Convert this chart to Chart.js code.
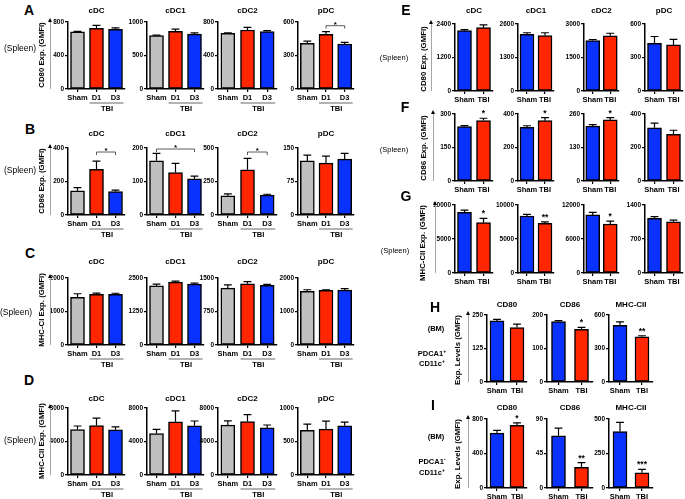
<!DOCTYPE html>
<html>
<head>
<meta charset="utf-8">
<script src="https://cdn.jsdelivr.net/npm/chart.js@4.4.1/dist/chart.umd.min.js"></script>
<style>
  body { margin: 0; background: #fff; }
  #fig { position: relative; width: 685px; height: 499px; overflow: hidden; background: #fff; font-family: "Liberation Sans", Arial, sans-serif; }
  .txt { position: absolute; white-space: nowrap; color: #000; line-height: 1; }
  .arrow { position: absolute; width: 0; border-left: 1px solid #a5a5a5; }
  .arrow::before { content: ""; position: absolute; left: -3px; top: -3px; border-left: 2.5px solid transparent; border-right: 2.5px solid transparent; border-bottom: 4px solid #000; }
  sup { font-size: 70%; vertical-align: 3px; }
</style>
</head>
<body>
<div id="fig"></div>
<script>
const spleenCells = ["cDC", "cDC1", "cDC2", "pDC"];
const dayGroups = ["Sham", "D1", "D3"];
const tbiGroups = ["Sham", "TBI"];
const bmMarkers = ["CD80", "CD86", "MHC-CII"];

// A - CD80 (spleen), Sham / D1 / D3
const cd80DayMean = [[684, 725, 713], [798, 860, 820], [665, 705, 686], [409, 490, 403]];
const cd80DayErr = [[5, 35, 18], [6, 35, 18], [5, 32, 12], [20, 23, 15]];
const cd80DayMax = [800, 1000, 800, 600];
const cd80DayBrackets = [null, null, null, [1, 2, 567, "*"]];

// B - CD86
const cd86DayMean = [[145, 272, 140], [162, 127, 108], [143, 338, 148], [121, 116, 125]];
const cd86DayErr = [[18, 50, 8], [22, 27, 8], [15, 85, 7], [13, 16, 13]];
const cd86DayMax = [400, 200, 500, 150];
const cd86DayBrackets = [[1, 2, 376, "*"], [0, 2, 197, "*"], [1, 2, 470, "*"], null];

// C - MHC-CI
const mhc1DayMean = [[1420, 1510, 1515], [2205, 2345, 2270], [1275, 1370, 1335], [1600, 1630, 1640]];
const mhc1DayErr = [[110, 40, 30], [70, 35, 40], [70, 50, 22], [50, 18, 40]];
const mhc1DayMax = [2000, 2500, 1500, 2000];

// D - MHC-CII
const mhc2DayMean = [[5430, 5900, 5400], [4950, 6350, 5870], [5950, 6380, 5620], [668, 685, 735]];
const mhc2DayErr = [[420, 900, 340], [500, 1300, 580], [520, 820, 350], [90, 118, 55]];
const mhc2DayMax = [8000, 8000, 8000, 1000];

// E - CD80, Sham / TBI
const cd80TbiMean = [[2160, 2270], [2200, 2150], [2260, 2470], [428, 413]];
const cd80TbiErr = [[35, 100], [60, 110], [45, 115], [60, 50]];
const cd80TbiMax = [2400, 2600, 3000, 600];

// F - CD86
const cd86TbiMean = [[244, 271], [320, 360], [213, 237], [318, 279]];
const cd86TbiErr = [[4, 10], [10, 18], [6, 9], [27, 24]];
const cd86TbiMax = [300, 400, 260, 400];
const cd86TbiStars = ["*", "*", "*", ""];

// G - MHC-CII
const mhc2TbiMean = [[8920, 7400], [8380, 7300], [10250, 8650], [1125, 1055]];
const mhc2TbiErr = [[330, 640], [230, 230], [460, 520], [35, 35]];
const mhc2TbiMax = [10000, 10000, 12000, 1400];
const mhc2TbiStars = ["*", "**", "*", ""];

// H - BM PDCA1+ CD11c+
const bmPosMean = [[228, 203], [180, 157], [508, 405]];
const bmPosErr = [[6, 13], [3, 6], [30, 9]];
const bmPosMax = [250, 200, 600];
const bmPosStars = ["", "*", "**"];

// I - BM PDCA1- CD11c+
const bmNegMean = [[636, 727], [68, 27], [409, 110]];
const bmNegErr = [[31, 27], [10, 6], [66, 25]];
const bmNegMax = [800, 90, 500];
const bmNegStars = ["*", "**", "***"];

const FONT = "'Liberation Sans', Arial, sans-serif";
const GRAY = "#c0c0c0";
const RED = "#ff2600";
const BLUE = "#0a32ff";

Chart.defaults.font.family = FONT;
Chart.defaults.color = "#000";

const fig = document.getElementById("fig");

// layout of the columns / rows (pixels)
const leftCols = { axisX: [68, 147, 218, 298], endX: [125, 204, 277, 354] };
const rightCols = { axisX: [455, 518, 584, 645], endX: [493, 554, 619, 683] };
const bmCols = { axisX: [487, 547, 609], endX: [527, 593, 653] };

const rowA = { topY: 22, zeroY: 89, titleY: 11 };
const rowB = { topY: 148, zeroY: 215, titleY: 134 };
const rowC = { topY: 278, zeroY: 345, titleY: 262 };
const rowD = { topY: 408, zeroY: 475, titleY: 399 };
const rowE = { topY: 24, zeroY: 91, titleY: 11 };
const rowF = { topY: 114, zeroY: 181, titleY: null };
const rowG = { topY: 205, zeroY: 273, titleY: null };
const rowH = { topY: 315, zeroY: 382, titleY: 305 };
const rowI = { topY: 419, zeroY: 488, titleY: 408 };

const errorBars = {
  id: "errorBars",
  afterDatasetsDraw(chart) {
    const { ctx } = chart;
    const y = chart.scales.y;
    const ds = chart.data.datasets[0];
    const meta = chart.getDatasetMeta(0);
    ctx.save();
    ctx.strokeStyle = "#000";
    ctx.lineWidth = 1.2;
    meta.data.forEach((bar, i) => {
      const yTop = y.getPixelForValue(ds.data[i] + ds.errors[i]);
      const cap = bar.width * 0.28;
      ctx.beginPath();
      ctx.moveTo(bar.x, bar.y);
      ctx.lineTo(bar.x, yTop);
      ctx.moveTo(bar.x - cap, yTop);
      ctx.lineTo(bar.x + cap, yTop);
      ctx.stroke();
    });
    ctx.restore();
  },
};

function makeMarks(spec) {
  return {
    id: "marks",
    afterDraw(chart) {
      const { ctx, chartArea } = chart;
      const y = chart.scales.y;
      const ds = chart.data.datasets[0];
      const bars = chart.getDatasetMeta(0).data;
      ctx.save();
      ctx.fillStyle = "#000";
      ctx.textAlign = "center";

      if (spec.title) {
        ctx.font = `bold 8px ${FONT}`;
        ctx.textBaseline = "middle";
        ctx.fillText(spec.title, (chartArea.left + chartArea.right) / 2, spec.titleY - spec.canvasTop);
      }

      if (spec.group) {
        const x1 = bars[1].x - bars[1].width / 2;
        const x2 = bars[2].x + bars[2].width / 2 + 1;
        const lineY = chartArea.bottom + 14;
        ctx.strokeStyle = "#9a9a9a";
        ctx.lineWidth = 1.5;
        ctx.beginPath();
        ctx.moveTo(x1, lineY);
        ctx.lineTo(x2, lineY);
        ctx.stroke();
        ctx.font = `bold 7.5px ${FONT}`;
        ctx.textBaseline = "middle";
        ctx.fillText("TBI", (bars[1].x + bars[2].x) / 2 + 1, chartArea.bottom + 20);
      }

      if (spec.bracket) {
        const [from, to, value, text] = spec.bracket;
        const by = y.getPixelForValue(value);
        ctx.strokeStyle = "#333";
        ctx.lineWidth = 0.8;
        ctx.beginPath();
        ctx.moveTo(bars[from].x, by + 3);
        ctx.lineTo(bars[from].x, by);
        ctx.lineTo(bars[to].x, by);
        ctx.lineTo(bars[to].x, by + 3);
        ctx.stroke();
        ctx.font = `bold 8px ${FONT}`;
        ctx.textBaseline = "alphabetic";
        ctx.fillText(text, (bars[from].x + bars[to].x) / 2, by + 1);
      }

      if (spec.stars) {
        ctx.font = `bold 8.5px ${FONT}`;
        ctx.textBaseline = "alphabetic";
        spec.stars.forEach((s, i) => {
          if (!s) return;
          const cy = y.getPixelForValue(ds.data[i] + ds.errors[i]);
          ctx.fillText(s, bars[i].x, cy - 2);
        });
      }
      ctx.restore();
    },
  };
}

function drawBarChart(spec) {
  const yW = 24;
  const padR = 3;
  const xH = spec.group ? 26 : 14;
  const top = spec.titleY ? spec.titleY - 8 : spec.topY - 14;
  const left = spec.axisX - yW;
  const width = spec.endX - spec.axisX + yW + padR;
  const height = spec.zeroY - top + xH;
  spec.canvasTop = top;

  const canvas = document.createElement("canvas");
  canvas.width = width;
  canvas.height = height;
  canvas.style.cssText = `position:absolute;left:${left}px;top:${top}px;width:${width}px;height:${height}px`;
  fig.appendChild(canvas);

  const max = spec.max;
  new Chart(canvas, {
    type: "bar",
    data: {
      labels: spec.labels,
      datasets: [
        {
          data: spec.mean,
          errors: spec.err,
          backgroundColor: spec.colors,
          borderColor: "#000",
          borderWidth: 1.5,
          borderSkipped: false,
          barThickness: 14,
        },
      ],
    },
    options: {
      responsive: false,
      animation: false,
      devicePixelRatio: 1,
      events: [],
      layout: { padding: { top: spec.topY - top, right: padR, left: 0, bottom: 0 } },
      plugins: { legend: { display: false }, tooltip: { enabled: false }, title: { display: false } },
      scales: {
        x: {
          offset: true,
          grid: { display: true, drawOnChartArea: false, offset: false, tickLength: 3, color: "#000", lineWidth: 1.2 },
          border: { color: "#000", width: 1.5 },
          ticks: { color: "#000", font: { size: 7.5, weight: "bold" }, padding: 1, maxRotation: 0, autoSkip: false },
          afterFit: (s) => { s.height = xH; },
        },
        y: {
          min: 0,
          max: max,
          afterBuildTicks: (s) => { s.ticks = [0, max / 2, max].map((v) => ({ value: v })); },
          grid: { drawOnChartArea: false, tickLength: 3, color: "#000", lineWidth: 1.2 },
          border: { color: "#000", width: 1.5 },
          ticks: { color: "#000", font: { size: 6.5, weight: "bold" }, padding: 1, callback: (v) => String(v) },
          afterFit: (s) => { s.width = yW; },
        },
      },
    },
    plugins: [errorBars, makeMarks(spec)],
  });
}

function drawPanel(row, cols, titles, labels, mean, err, maxes, extra) {
  const colors = labels.length === 3 ? [GRAY, RED, BLUE] : [BLUE, RED];
  mean.forEach((m, i) => {
    drawBarChart({
      axisX: cols.axisX[i],
      endX: cols.endX[i],
      topY: row.topY,
      zeroY: row.zeroY,
      titleY: row.titleY,
      title: row.titleY ? titles[i] : null,
      labels: labels,
      colors: colors,
      mean: m,
      err: err[i],
      max: maxes[i],
      group: labels.length === 3,
      bracket: extra && extra.brackets ? extra.brackets[i] : null,
      stars: extra && extra.stars ? [null, extra.stars[i]] : null,
    });
  });
}

drawPanel(rowA, leftCols, spleenCells, dayGroups, cd80DayMean, cd80DayErr, cd80DayMax, { brackets: cd80DayBrackets });
drawPanel(rowB, leftCols, spleenCells, dayGroups, cd86DayMean, cd86DayErr, cd86DayMax, { brackets: cd86DayBrackets });
drawPanel(rowC, leftCols, spleenCells, dayGroups, mhc1DayMean, mhc1DayErr, mhc1DayMax);
drawPanel(rowD, leftCols, spleenCells, dayGroups, mhc2DayMean, mhc2DayErr, mhc2DayMax);
drawPanel(rowE, rightCols, spleenCells, tbiGroups, cd80TbiMean, cd80TbiErr, cd80TbiMax);
drawPanel(rowF, rightCols, spleenCells, tbiGroups, cd86TbiMean, cd86TbiErr, cd86TbiMax, { stars: cd86TbiStars });
drawPanel(rowG, rightCols, spleenCells, tbiGroups, mhc2TbiMean, mhc2TbiErr, mhc2TbiMax, { stars: mhc2TbiStars });
drawPanel(rowH, bmCols, bmMarkers, tbiGroups, bmPosMean, bmPosErr, bmPosMax, { stars: bmPosStars });
drawPanel(rowI, bmCols, bmMarkers, tbiGroups, bmNegMean, bmNegErr, bmNegMax, { stars: bmNegStars });

// side labels
function addText(html, x, y, size, weight, rotate) {
  const d = document.createElement("div");
  d.className = "txt";
  d.innerHTML = html;
  d.style.left = x + "px";
  d.style.top = y + "px";
  d.style.fontSize = size + "px";
  d.style.fontWeight = weight;
  d.style.transform = `translate(-50%, -50%)${rotate ? " rotate(-90deg)" : ""}`;
  fig.appendChild(d);
}

function addArrow(x, y1, y2) {
  const d = document.createElement("div");
  d.className = "arrow";
  d.style.left = x + "px";
  d.style.top = y1 + "px";
  d.style.height = y2 - y1 + "px";
  fig.appendChild(d);
}

[["A", 29, 10], ["B", 30, 129], ["C", 30, 253], ["D", 29, 380], ["E", 406, 10],
 ["F", 405, 107], ["G", 406, 196], ["H", 435, 307], ["I", 433, 405]]
  .forEach(([t, x, y]) => addText(t, x, y, 14, "bold"));

[["CD80 Exp. (GMFI)", 42, 55], ["CD86 Exp. (GMFI)", 42, 181], ["MHC-CI Exp. (GMFI)", 42, 310],
 ["MHC-CII Exp. (GMFI)", 42, 441], ["CD80 Exp. (GMFI)", 424, 59], ["CD86 Exp. (GMFI)", 424, 148],
 ["MHC-CII Exp. (GMFI)", 423, 243], ["Exp. Levels (GMFI)", 458, 350], ["Exp. Levels (GMFI)", 458, 454]]
  .forEach(([t, x, y]) => addText(t, x, y, 7.8, "bold", true));

[[50, 21, 89], [50, 147, 215], [50, 277, 345], [50, 407, 475], [431, 23, 91],
 [433, 113, 181], [435, 204, 273], [468, 314, 382], [468, 418, 488]]
  .forEach(([x, a, b]) => addArrow(x, a, b));

[[20, 48], [20, 170], [16, 312], [20, 440]].forEach(([x, y]) => addText("(Spleen)", x, y, 8.5, "normal"));
[[394, 58], [394, 150], [395, 251]].forEach(([x, y]) => addText("(Spleen)", x, y, 7.5, "normal"));

addText("(BM)", 436, 329, 7.5, "bold");
addText("PDCA1<sup>+</sup>", 432, 353, 7.5, "bold");
addText("CD11c<sup>+</sup>", 432, 363, 7.5, "bold");
addText("(BM)", 436, 437, 7.5, "bold");
addText("PDCA1<sup>-</sup>", 432, 461, 7.5, "bold");
addText("CD11c<sup>+</sup>", 432, 472, 7.5, "bold");
</script>
</body>
</html>
